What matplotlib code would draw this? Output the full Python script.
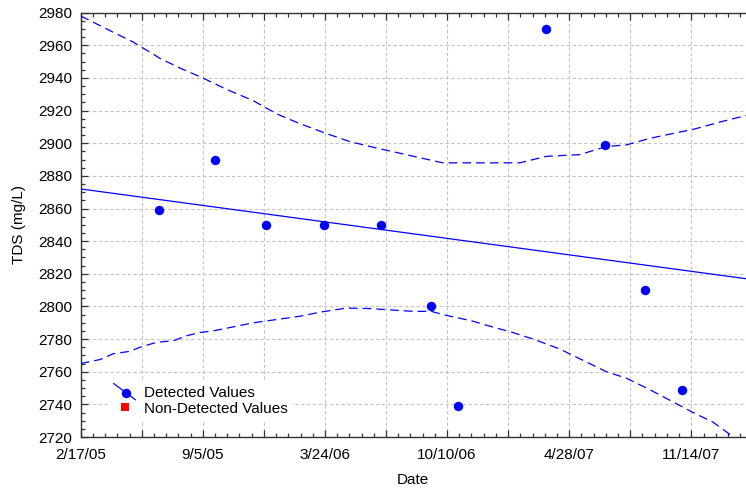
import numpy as np
import matplotlib
matplotlib.use("Agg")
import matplotlib.pyplot as plt
import matplotlib.dates as mdates
from matplotlib.lines import Line2D
from matplotlib.legend_handler import HandlerBase
from matplotlib.ticker import MultipleLocator, FixedLocator, FixedFormatter

plt.rcParams["font.family"] = ["Liberation Sans", "DejaVu Sans"]

# --- data -------------------------------------------------------------
sample_dates = ["2005-06-26", "2005-09-25", "2005-12-17", "2006-03-23",
                "2006-06-23", "2006-09-14", "2006-10-28", "2007-03-21",
                "2007-06-25", "2007-08-30", "2007-10-30"]
tds_detected = [2859, 2890, 2850, 2850, 2850, 2800, 2739, 2970, 2899, 2810, 2749]

# trend line (start/end of the date axis)
axis_start = "2005-02-17"
axis_span_days = 1089.6
trend_values = [2872, 2817]

# confidence band, days after axis_start
upper_days = [0, 48, 86, 130, 163, 200, 239, 283, 321, 359, 402, 441, 474,
              533, 593, 719, 763, 817, 861, 894, 932, 970, 1003, 1047, 1079, 1090]
upper_vals = [2978, 2969, 2962, 2952, 2946, 2940, 2933, 2926, 2918, 2912, 2906,
              2901, 2898, 2893, 2888, 2888, 2892, 2893, 2898, 2899, 2903, 2906,
              2908.5, 2913, 2916, 2917]
lower_days = [0, 32, 53, 81, 97, 124, 152, 173, 195, 217, 250, 283, 321, 359,
              392, 435, 474, 544, 574, 598, 642, 669, 708, 741, 784, 817, 861,
              894, 932, 970, 1003, 1036, 1069, 1090]
lower_vals = [2765, 2767.5, 2771, 2772.5, 2775, 2778, 2779, 2782, 2784, 2785,
              2787.5, 2790, 2792, 2794, 2796.5, 2799, 2798.7, 2797, 2797,
              2794.6, 2791, 2788, 2784, 2780, 2774, 2768, 2760, 2756, 2749,
              2741.5, 2735, 2729, 2720, 2713]

tick_days = [0, 200, 400, 600, 800, 1000]
tick_labels = ["2/17/05", "9/5/05", "3/24/06", "10/10/06", "4/28/07", "11/14/07"]

# --- figure -----------------------------------------------------------
W, H = 746, 490
fig = plt.figure(figsize=(W / 100, H / 100), dpi=100)
left, right, top, bottom = 80.7, 746, 12.7, 437
ax = fig.add_axes([left / W, 1 - bottom / H, (right - left) / W, (bottom - top) / H])

t0 = mdates.date2num(np.datetime64(axis_start))
dates = mdates.date2num(np.array(sample_dates, dtype="datetime64[D]"))
blue = "#0000ff"

ax.plot([t0, t0 + axis_span_days], trend_values, color=blue, lw=0.9, zorder=3)
ax.plot(t0 + np.array(upper_days), upper_vals, color=blue, lw=0.9,
        dashes=(7, 4), zorder=3)
ax.plot(t0 + np.array(lower_days), lower_vals, color=blue, lw=0.9,
        dashes=(7, 4), zorder=3)
ax.plot(dates, tds_detected, ls="", marker="o", ms=6.8, color=blue,
        markeredgewidth=0, zorder=4)

ax.set_xlim(t0, t0 + axis_span_days)
ax.set_ylim(2720, 2980)

# ticks and grid
ax.xaxis.set_major_locator(FixedLocator([t0 + d for d in range(0, 1100, 100)]))
ax.xaxis.set_major_formatter(FixedFormatter(
    [tick_labels[tick_days.index(d)] if d in tick_days else "" for d in range(0, 1100, 100)]))
ax.xaxis.set_minor_locator(FixedLocator([t0 + d for d in range(0, 1100, 20)]))
ax.yaxis.set_major_locator(MultipleLocator(20))
ax.yaxis.set_minor_locator(MultipleLocator(5))

ax.tick_params(axis="both", which="both", direction="in", top=True, right=False,
               labelsize=11, colors="#333333", labelcolor="black")
ax.tick_params(axis="both", which="major", length=5, width=0.9)
ax.tick_params(axis="both", which="minor", length=3, width=0.9)
ax.tick_params(axis="x", which="major", pad=8)
ax.tick_params(axis="y", which="major", pad=6)

ax.grid(True, which="major", color="#c4c4c4", lw=0.8, dashes=(3, 2.2))
ax.set_axisbelow(True)

for side in ("left", "bottom", "top"):
    ax.spines[side].set_color("#333333")
    ax.spines[side].set_linewidth(1.0)
ax.spines["right"].set_visible(False)

ax.set_xlabel("Date", fontsize=11, labelpad=8)
ax.set_ylabel("TDS (mg/L)", fontsize=11, labelpad=9)


class SlashMarkerHandler(HandlerBase):
    def create_artists(self, legend, orig_handle, xdescent, ydescent,
                       width, height, fontsize, trans):
        x0, x1 = -xdescent, -xdescent + width
        y0, y1 = -ydescent, -ydescent + height
        line = Line2D([x0, x1], [y1 + 0.25 * height, y0 - 0.25 * height],
                      color=blue, lw=0.9, transform=trans)
        mark = Line2D([(x0 + x1) / 2 + 1], [(y0 + y1) / 2 - 1], marker="o",
                      ms=6.8, color=blue, markeredgewidth=0, ls="",
                      transform=trans)
        return [line, mark]


det_handle = Line2D([], [], color=blue, marker="o")
nd_handle = Line2D([], [], ls="", marker="s", ms=6.2, color="#ff0000",
                   markeredgewidth=0)
leg = ax.legend([det_handle, nd_handle], ["Detected Values", "Non-Detected Values"],
                handler_map={det_handle: SlashMarkerHandler()},
                loc="upper left", bbox_to_anchor=(0.043, 0.131), fontsize=11,
                frameon=True, fancybox=False, edgecolor="none", facecolor="white",
                framealpha=1, handlelength=1.4, handletextpad=0.55,
                labelspacing=0.12, borderpad=0.3, borderaxespad=0)

fig.savefig("out.png", dpi=100)
